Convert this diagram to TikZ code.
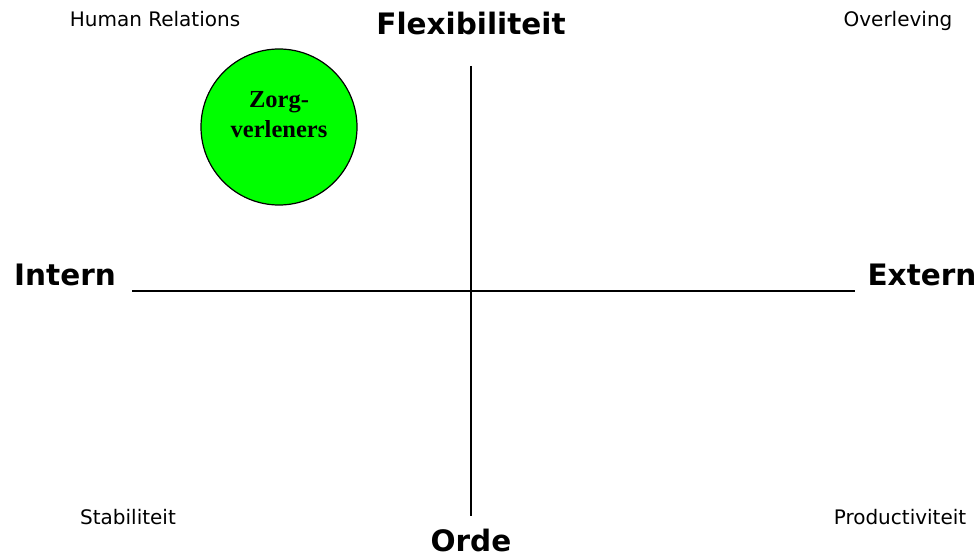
\documentclass[tikz,border=0pt]{standalone}
\usepackage{fontspec}
\setmainfont{DejaVu Sans}
\newfontfamily\timesbold{Liberation Serif}[BoldFont={* Bold}]
\begin{document}
\begin{tikzpicture}[x=1pt,y=-1pt,
  axis/.style={line width=1.3pt,black},
  small/.style={font=\fontsize{20}{24}\selectfont,inner sep=0pt,anchor=base},
  big/.style={font=\fontsize{29.5}{34}\selectfont\bfseries,inner sep=0pt,anchor=base}]
\useasboundingbox (0,0) rectangle (979,559);
\coordinate (top) at (471,66);
\coordinate (bot) at (471,516);
\coordinate (lft) at (132,291);
\coordinate (rgt) at (855,291);
\draw[axis] (top) -- (bot);
\draw[axis] (lft) -- (rgt);
\node[big] (flex) at (471,35) {Flexibiliteit};
\node[big] (orde) at (471,551) {Orde};
\node[big] (intern) at (65,285) {Intern};
\node[big] (extern) at (922,285) {Extern};
\node[small] (hr) at (155,27) {Human Relations};
\node[small] (ov) at (898,27) {Overleving};
\node[small] (st) at (128,524) {Stabiliteit};
\node[small] (pr) at (900,524) {Productiviteit};
\node[circle,draw=black,line width=1.2pt,fill={rgb,255:red,0;green,255;blue,0},minimum size=156pt,inner sep=0pt] (c) at (279,127) {};
\node[font=\fontsize{24.5}{30}\selectfont\timesbold\bfseries,align=center,inner sep=0pt,anchor=base] (txt) at (279,137) {Zorg-\\verleners};
\end{tikzpicture}
\end{document}
